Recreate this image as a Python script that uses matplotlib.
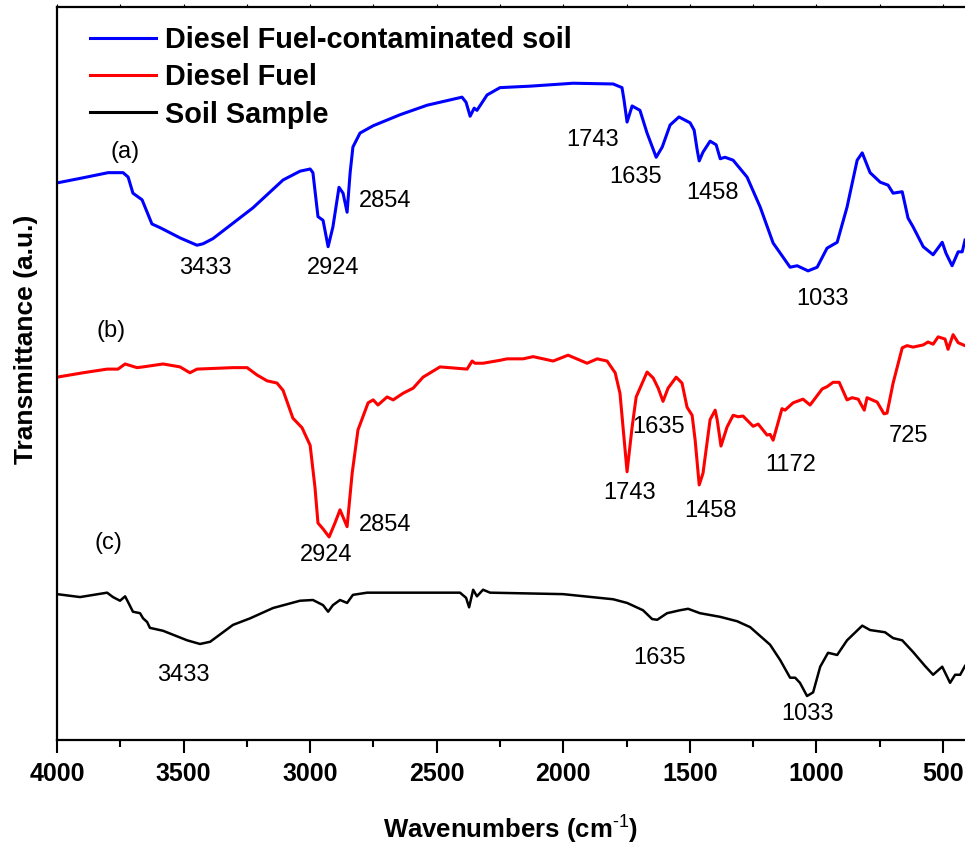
import matplotlib
matplotlib.use("Agg")
import matplotlib.pyplot as plt
from matplotlib.ticker import MultipleLocator

plt.rcParams['font.family'] = ['Liberation Sans', 'DejaVu Sans']
plt.rcParams['mathtext.fontset'] = 'custom'
plt.rcParams['mathtext.rm'] = 'Liberation Sans'
plt.rcParams['mathtext.bf'] = 'Liberation Sans:bold'

# (a) diesel fuel-contaminated soil
wn_a = [4000, 3897, 3798, 3739, 3719, 3700, 3684, 3664, 3625, 3593, 3514, 3447, 3423, 3384,
        3305, 3226, 3107, 3040, 3000, 2989, 2969, 2949, 2929, 2910, 2886, 2870, 2854, 2842,
        2831, 2803, 2751, 2645, 2538, 2400, 2384, 2368, 2352, 2341, 2301, 2250, 2131, 1961,
        1803, 1768, 1760, 1748, 1728, 1697, 1669, 1633, 1609, 1578, 1543, 1499, 1483, 1471,
        1463, 1448, 1420, 1396, 1380, 1361, 1329, 1274, 1222, 1171, 1104, 1076, 1033, 997,
        958, 918, 879, 839, 819, 788, 748, 717, 697, 661, 638, 618, 578, 539, 503, 488, 464,
        440, 424, 413]
t_a = [76.0, 76.7, 77.4, 77.4, 76.8, 74.6, 74.2, 73.7, 70.4, 69.9, 68.5, 67.5, 67.7, 68.4,
       70.5, 72.6, 76.4, 77.6, 77.9, 77.4, 71.4, 70.9, 67.3, 70.0, 75.4, 74.6, 72.0, 77.4,
       80.9, 82.8, 83.8, 85.3, 86.6, 87.7, 87.0, 85.1, 86.2, 85.9, 88.0, 89.0, 89.2, 89.6,
       89.5, 89.0, 87.3, 84.3, 86.5, 85.9, 82.8, 79.5, 80.9, 83.9, 85.0, 84.2, 83.2, 80.5,
       79.0, 80.2, 81.7, 81.2, 79.3, 79.5, 79.1, 76.8, 72.7, 67.8, 64.5, 64.7, 64.0, 64.5,
       67.1, 67.9, 72.7, 79.1, 80.1, 77.4, 76.1, 75.7, 74.6, 74.8, 71.2, 70.0, 67.3, 66.2,
       67.9, 66.4, 64.7, 66.6, 66.6, 68.2]

# (b) diesel fuel
wn_b = [4000, 3897, 3802, 3759, 3731, 3684, 3660, 3581, 3514, 3475, 3447, 3305, 3249, 3210,
        3170, 3131, 3107, 3068, 3032, 3000, 2981, 2969, 2949, 2925, 2902, 2882, 2854, 2834,
        2811, 2771, 2751, 2732, 2696, 2672, 2633, 2593, 2554, 2487, 2380, 2360, 2349, 2317,
        2250, 2222, 2159, 2119, 2040, 1981, 1906, 1866, 1827, 1795, 1776, 1748, 1728, 1712,
        1669, 1645, 1625, 1606, 1586, 1554, 1531, 1511, 1491, 1479, 1463, 1448, 1420, 1400,
        1392, 1377, 1353, 1329, 1309, 1290, 1250, 1230, 1195, 1183, 1171, 1136, 1124, 1092,
        1053, 1025, 977, 958, 934, 910, 879, 859, 835, 811, 800, 760, 733, 721, 697, 661, 642,
        618, 578, 559, 539, 519, 492, 480, 460, 440, 413]
t_b = [49.5, 50.1, 50.6, 50.6, 51.3, 50.8, 50.9, 51.3, 50.9, 50.1, 50.6, 50.8, 50.8, 49.8,
       49.0, 48.7, 47.7, 43.9, 42.6, 40.2, 34.5, 29.6, 28.8, 27.7, 29.6, 31.4, 29.1, 36.4,
       42.3, 46.0, 46.4, 45.7, 46.8, 46.4, 47.3, 48.0, 49.5, 50.9, 50.6, 51.7, 51.4, 51.4,
       51.8, 52.0, 52.0, 52.3, 51.7, 52.5, 51.4, 52.0, 51.7, 50.1, 47.3, 36.6, 42.7, 46.8,
       50.2, 49.4, 48.0, 46.2, 48.0, 49.5, 48.7, 45.4, 44.3, 40.9, 34.8, 36.4, 43.7, 45.0,
       43.7, 40.1, 42.7, 44.3, 44.1, 44.2, 42.8, 43.1, 41.6, 41.7, 40.9, 45.2, 45.0, 46.0,
       46.5, 45.7, 47.9, 48.2, 48.8, 48.8, 46.4, 46.7, 46.5, 45.0, 46.7, 46.1, 44.5, 44.6,
       48.7, 53.5, 53.8, 53.6, 53.9, 54.3, 54.0, 55.0, 54.7, 53.3, 55.3, 54.2, 53.8]

# (c) soil sample
wn_c = [4000, 3909, 3802, 3779, 3751, 3731, 3719, 3700, 3672, 3660, 3644, 3633, 3581, 3486,
        3435, 3395, 3305, 3237, 3147, 3040, 2989, 2949, 2929, 2910, 2882, 2854, 2831, 2775,
        2408, 2384, 2372, 2356, 2341, 2317, 2289, 2001, 1803, 1748, 1685, 1649, 1629, 1590,
        1539, 1507, 1460, 1380, 1313, 1262, 1183, 1143, 1104, 1084, 1065, 1037, 1013, 985,
        954, 918, 879, 819, 788, 729, 697, 661, 618, 571, 539, 503, 472, 452, 432, 413]
t_c = [19.9, 19.5, 20.1, 19.5, 19.0, 19.6, 18.8, 17.5, 17.3, 16.6, 16.1, 15.3, 14.9, 13.6,
       13.1, 13.4, 15.7, 16.6, 18.0, 19.0, 19.1, 18.4, 17.5, 18.4, 19.1, 18.7, 19.8, 20.1,
       20.1, 19.4, 18.1, 20.5, 19.6, 20.5, 20.1, 19.9, 19.2, 18.7, 17.7, 16.5, 16.4, 17.3,
       17.7, 17.9, 17.3, 16.8, 16.2, 15.4, 13.0, 10.9, 8.5, 8.5, 7.8, 6.0, 6.5, 10.0,
       11.9, 11.6, 13.6, 15.6, 15.0, 14.7, 13.9, 13.6, 12.0, 10.1, 8.9, 10.0, 7.8, 8.9,
       8.9, 10.1]

series_names = ['Diesel Fuel-contaminated soil', 'Diesel Fuel', 'Soil Sample']
series_colors = ['#0000ff', '#ff0000', '#000000']

# peak labels: (text, x, y)
labels_a = [('(a)', 3731, 80.2), ('3433', 3415, 64.4), ('2924', 2910, 64.4), ('2854', 2704, 73.5),
            ('1743', 1886, 81.9), ('1635', 1716, 76.8), ('1458', 1412, 74.6), ('1033', 974, 60.2)]
labels_b = [('(b)', 3787, 55.8), ('2924', 2937, 25.2), ('2854', 2704, 29.3), ('1635', 1622, 42.7),
            ('1743', 1740, 33.7), ('1458', 1420, 31.2), ('1172', 1100, 37.5), ('725', 638, 41.5)]
labels_c = [('(c)', 3795, 26.9), ('3433', 3502, 8.9), ('1635', 1618, 11.2), ('1033', 1037, 3.5)]

fig = plt.figure(figsize=(9.65, 8.47), dpi=100)
ax = fig.add_axes([57 / 965, 107 / 847, 1 - 57 / 965, 733 / 847])

ax.plot(wn_a, t_a, color=series_colors[0], lw=2.2, label=series_names[0])
ax.plot(wn_b, t_b, color=series_colors[1], lw=2.2, label=series_names[1])
ax.plot(wn_c, t_c, color=series_colors[2], lw=1.8, label=series_names[2])

for txt, x, y in labels_a + labels_b + labels_c:
    ax.text(x, y, txt, fontsize=17, ha='center', va='center')

ax.set_xlim(4000, 413)
ax.set_ylim(0, 100)
ax.xaxis.set_major_locator(MultipleLocator(500))
ax.xaxis.set_minor_locator(MultipleLocator(250))
ax.set_yticks([])
ax.tick_params(axis='x', which='major', direction='out', length=9.5, width=1.5,
               labelsize=18, pad=6)
ax.tick_params(axis='x', which='minor', direction='out', length=5, width=1.5)
# faint top ticks (cut off by the image edge)
ax.tick_params(axis='x', which='both', top=True)
for t in ax.xaxis.get_major_ticks() + ax.xaxis.get_minor_ticks():
    t.tick2line.set_markersize(2.5)
    t.tick2line.set_markeredgewidth(0.8)
    t.tick2line.set_color('#777777')
for lab in ax.get_xticklabels():
    lab.set_fontweight('bold')
for side in ['left', 'bottom', 'top']:
    ax.spines[side].set_linewidth(1.6)
ax.spines['right'].set_visible(False)

ax.set_xlabel(r'Wavenumbers (cm$^{\text{-1}}$)', fontsize=18.5, fontweight='bold', labelpad=19)
ax.set_ylabel('Transmittance (a.u.)', fontsize=19, fontweight='bold')
ax.yaxis.set_label_coords(-0.0204, 0.546)

leg = ax.legend(loc='upper left', bbox_to_anchor=(0.036, 0.974), frameon=False,
                prop={'size': 20.8, 'weight': 'bold'}, handlelength=2.3, handletextpad=0.3,
                labelspacing=0.32, borderpad=0, borderaxespad=0)
for line in leg.get_lines():
    line.set_linewidth(2.2)

fig.savefig('out.png', dpi=100)
